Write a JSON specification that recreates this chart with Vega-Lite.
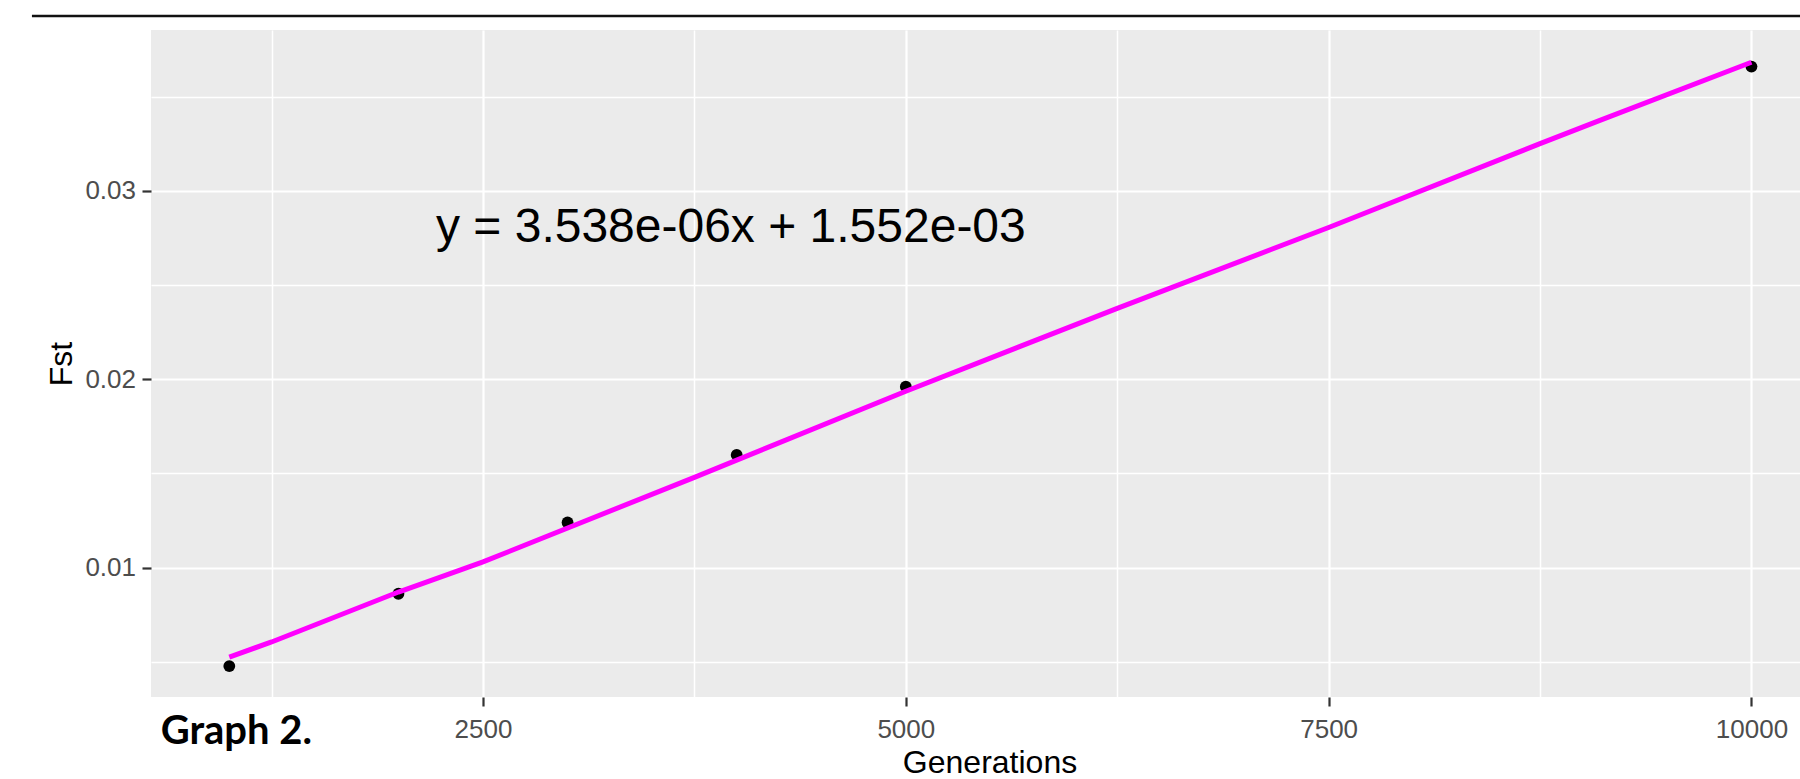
{
  "$schema": "https://vega.github.io/schema/vega-lite/v6.json",
  "autosize": {"type": "none"},
  "padding": {"left": 151, "top": 30, "right": 0, "bottom": 82},
  "width": 1649,
  "height": 667,
  "background": "white",
  "view": {"fill": "#EBEBEB", "stroke": null},
  "datasets": {
    "points": [
      {"Generations": 1000, "Fst": 0.00477},
      {"Generations": 2000, "Fst": 0.00861},
      {"Generations": 3000, "Fst": 0.01239},
      {"Generations": 4000, "Fst": 0.01598},
      {"Generations": 5000, "Fst": 0.0196},
      {"Generations": 10000, "Fst": 0.03659}
    ],
    "fit": [
      {"Generations": 1000, "Fst": 0.00525},
      {"Generations": 1250, "Fst": 0.00605},
      {"Generations": 2000, "Fst": 0.0087},
      {"Generations": 2500, "Fst": 0.0103},
      {"Generations": 3750, "Fst": 0.01479},
      {"Generations": 5000, "Fst": 0.01936},
      {"Generations": 6250, "Fst": 0.02376},
      {"Generations": 7500, "Fst": 0.02805},
      {"Generations": 8750, "Fst": 0.0325},
      {"Generations": 9100, "Fst": 0.03372},
      {"Generations": 10000, "Fst": 0.03682}
    ],
    "equation": [
      {"Generations": 2222, "Fst": 0.02728, "label": "y = 3.538e-06x + 1.552e-03"}
    ],
    "caption": [
      {"Generations": 594, "Fst": 0.00065, "label": "Graph 2."}
    ],
    "frame": [
      {"Generations": -167, "Generations_end": 10500, "Fst": 0.03928}
    ]
  },
  "layer": [
    {
      "data": {"name": "points"},
      "mark": {"type": "point", "filled": true, "color": "black", "size": 140, "opacity": 1},
      "encoding": {
        "x": {
          "field": "Generations", "type": "quantitative",
          "scale": {"domain": [537, 10287], "nice": false, "zero": false},
          "axis": {
            "title": "Generations",
            "values": [1250, 2500, 3750, 5000, 6250, 7500, 8750, 10000],
            "format": "d",
            "labelExpr": "datum.value % 2500 === 0 ? datum.label : ''",
            "labelFont": "Liberation Sans", "labelFontSize": 26, "labelColor": "#4D4D4D",
            "labelBaseline": "alphabetic", "labelPadding": 31, "labelOverlap": false, "labelFlush": false,
            "tickSize": 9, "tickWidth": 2.2,
            "tickColor": {"condition": {"test": "datum.value % 2500 === 0", "value": "#333333"}, "value": "transparent"},
            "grid": true, "gridColor": "white",
            "gridWidth": {"condition": {"test": "datum.value % 2500 === 0", "value": 2.2}, "value": 1.5},
            "domain": false,
            "titleFont": "Liberation Sans", "titleFontSize": 32, "titleColor": "black", "titleFontWeight": "normal",
            "titleX": 838.5, "titleY": 75, "titleBaseline": "alphabetic", "titleAlign": "center"
          }
        },
        "y": {
          "field": "Fst", "type": "quantitative",
          "scale": {"domain": [0.003128, 0.038534], "nice": false, "zero": false},
          "axis": {
            "title": "Fst",
            "values": [0.005, 0.01, 0.015, 0.02, 0.025, 0.03, 0.035],
            "format": ".2f",
            "labelExpr": "abs(datum.value * 100 - round(datum.value * 100)) < 0.000001 ? datum.label : ''",
            "labelFont": "Liberation Sans", "labelFontSize": 26, "labelColor": "#4D4D4D",
            "labelPadding": 6.5, "labelOverlap": false, "labelFlush": false,
            "tickSize": 9, "tickWidth": 2.2,
            "tickColor": {"condition": {"test": "abs(datum.value * 100 - round(datum.value * 100)) < 0.000001", "value": "#333333"}, "value": "transparent"},
            "grid": true, "gridColor": "white",
            "gridWidth": {"condition": {"test": "abs(datum.value * 100 - round(datum.value * 100)) < 0.000001", "value": 2.2}, "value": 1.5},
            "domain": false,
            "titleFont": "Liberation Sans", "titleFontSize": 32, "titleColor": "black", "titleFontWeight": "normal",
            "titleAngle": -90, "titleX": -80, "titleY": 333.5, "titleBaseline": "alphabetic", "titleAlign": "center"
          }
        }
      }
    },
    {
      "data": {"name": "fit"},
      "mark": {"type": "line", "color": "#FF00FF", "strokeWidth": 5},
      "encoding": {
        "x": {"field": "Generations", "type": "quantitative", "scale": {"domain": [537, 10287], "nice": false, "zero": false}},
        "y": {"field": "Fst", "type": "quantitative", "scale": {"domain": [0.003128, 0.038534], "nice": false, "zero": false}}
      }
    },
    {
      "data": {"name": "equation"},
      "mark": {"type": "text", "align": "left", "baseline": "alphabetic", "font": "Liberation Sans", "fontSize": 48, "color": "black"},
      "encoding": {
        "x": {"field": "Generations", "type": "quantitative", "scale": {"domain": [537, 10287], "nice": false, "zero": false}},
        "y": {"field": "Fst", "type": "quantitative", "scale": {"domain": [0.003128, 0.038534], "nice": false, "zero": false}},
        "text": {"field": "label", "type": "nominal"}
      }
    },
    {
      "data": {"name": "caption"},
      "mark": {"type": "text", "align": "left", "baseline": "alphabetic", "font": "Lato", "fontWeight": "bold", "fontSize": 40, "color": "black"},
      "encoding": {
        "x": {"field": "Generations", "type": "quantitative", "scale": {"domain": [537, 10287], "nice": false, "zero": false}},
        "y": {"field": "Fst", "type": "quantitative", "scale": {"domain": [0.003128, 0.038534], "nice": false, "zero": false}},
        "text": {"field": "label", "type": "nominal"}
      }
    },
    {
      "data": {"name": "frame"},
      "mark": {"type": "rule", "color": "#111111", "strokeWidth": 2.5},
      "encoding": {
        "x": {"field": "Generations", "type": "quantitative", "scale": {"domain": [537, 10287], "nice": false, "zero": false}},
        "x2": {"field": "Generations_end"},
        "y": {"field": "Fst", "type": "quantitative", "scale": {"domain": [0.003128, 0.038534], "nice": false, "zero": false}}
      }
    }
  ]
}
